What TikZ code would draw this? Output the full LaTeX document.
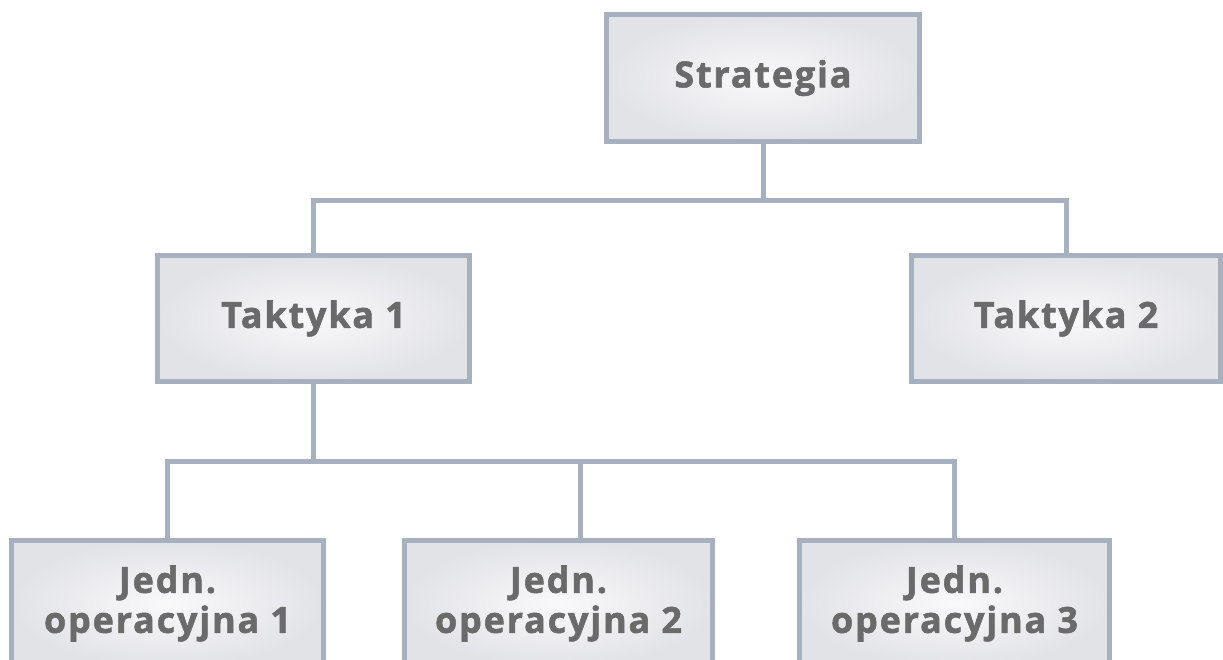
\documentclass[tikz,border=0pt]{standalone}
\usepackage{fontspec}
\setmainfont{Open Sans}[LetterSpace=5, BoldFeatures={FakeBold=1.5}]
\definecolor{edgec}{RGB}{167,176,190}
\definecolor{fillout}{RGB}{226,227,231}
\definecolor{fillin}{RGB}{249,249,250}
\definecolor{txtc}{RGB}{106,106,106}
\tikzset{
  orgbox/.style={draw=edgec, line width=5pt, inner color=fillin, outer color=fillout,
    minimum height=126pt, text=txtc, font=\fontsize{36}{40}\selectfont\bfseries, align=center, inner sep=0pt},
  link/.style={draw=edgec, line width=5pt}
}
\begin{document}
\begin{tikzpicture}[x=1pt,y=-1pt]
\useasboundingbox (0,0) rectangle (1223,659);
\clip (0,0) rectangle (1223,659);
\fill[white] (0,0) rectangle (1223,659);
% connectors
\coordinate (j1) at (763,200);
\coordinate (k2) at (580,461);
\node[orgbox, minimum width=313pt, minimum height=127pt] (S) at (763,78) {Strategia};
\node[orgbox, minimum width=312pt] (T1) at (313.5,318.5) {Taktyka 1};
\node[orgbox, minimum width=309pt] (T2) at (1066,318.5) {Taktyka 2};
\node[orgbox, minimum width=312pt] (B1) at (167.5,603.5) {Jedn.\\operacyjna 1};
\node[orgbox, minimum width=308pt] (B2) at (558.5,603.5) {Jedn.\\operacyjna 2};
\node[orgbox, minimum width=310pt] (B3) at (954.5,603.5) {Jedn.\\operacyjna 3};
\draw[link] (S.south) -- (j1);
\draw[link] (T1.north) |- (j1) -| (T2.north);
\draw[link] (T1.south) -- (T1.south |- k2);
\draw[link] (B1.north) |- (k2) -| (B3.north);
\draw[link] (k2) -- (k2 |- B2.north);
\end{tikzpicture}
\end{document}
